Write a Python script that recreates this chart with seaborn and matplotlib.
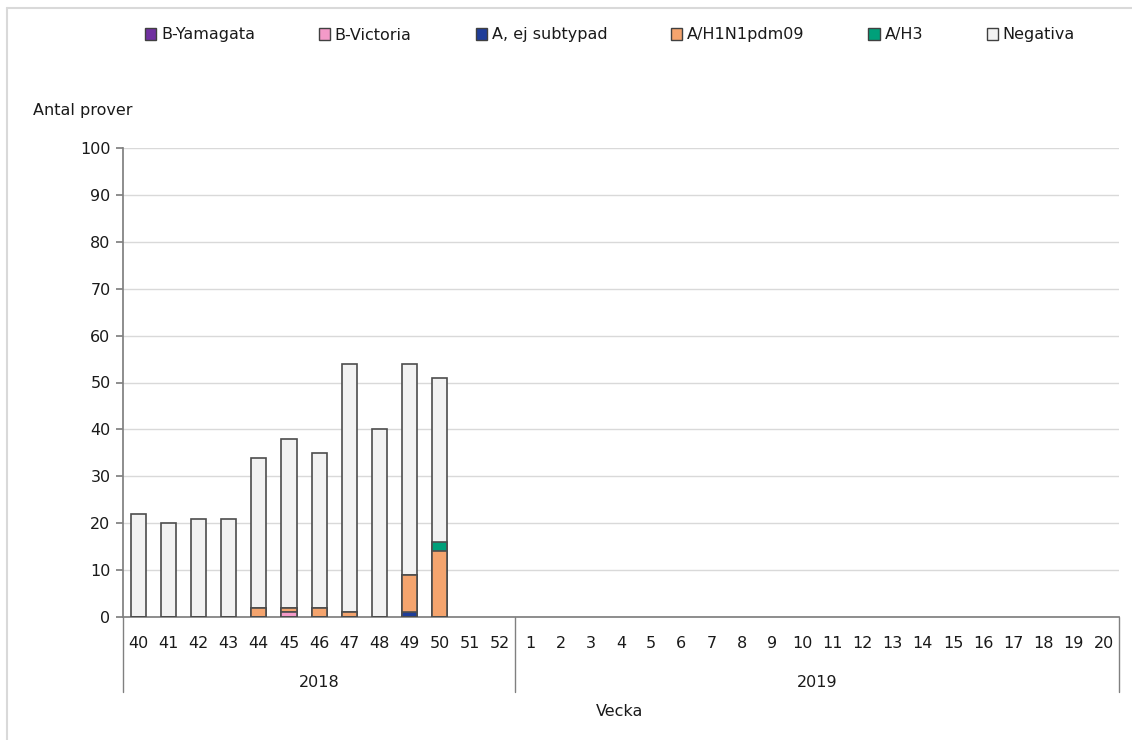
import numpy as np
import pandas as pd
import seaborn as sns
import matplotlib.pyplot as plt
from matplotlib.patches import Patch
from matplotlib.lines import Line2D

# data: all week slots on the axis, and the weeks that have samples
weeks = [str(w) for w in range(40, 53)] + [str(w) for w in range(1, 21)]
data_weeks = ["40", "41", "42", "43", "44", "45", "46", "47", "48", "49", "50"]
b_yamagata = [0, 0, 0, 0, 0, 0, 0, 0, 0, 0, 0]
b_victoria = [0, 0, 0, 0, 0, 1, 0, 0, 0, 0, 0]
a_ej = [0, 0, 0, 0, 0, 0, 0, 0, 0, 1, 0]
a_h1n1 = [0, 0, 0, 0, 2, 1, 2, 1, 0, 8, 14]
a_h3 = [0, 0, 0, 0, 0, 0, 0, 0, 0, 0, 2]
negativa = [22, 20, 21, 21, 32, 36, 33, 53, 40, 45, 35]

series = ["B-Yamagata", "B-Victoria", "A, ej subtypad", "A/H1N1pdm09", "A/H3", "Negativa"]
colors = ["#7030A0", "#F49AC8", "#1F3D99", "#F4A46E", "#00A07A", "#F2F2F2"]

df = pd.DataFrame({"Vecka": data_weeks, "B-Yamagata": b_yamagata, "B-Victoria": b_victoria,
                   "A, ej subtypad": a_ej, "A/H1N1pdm09": a_h1n1, "A/H3": a_h3,
                   "Negativa": negativa})
cum = df[series].cumsum(axis=1)

sns.set_theme(style="white")
plt.rcParams["font.family"] = ["DejaVu Sans"]
plt.rcParams["text.color"] = "#1A1A1A"
plt.rcParams["xtick.color"] = "#1A1A1A"
plt.rcParams["ytick.color"] = "#1A1A1A"
fig = plt.figure(figsize=(11.32, 7.40), dpi=100)
ax = fig.add_axes([123 / 1132, 1 - 617 / 740, (1119 - 123) / 1132, (617 - 148) / 740])

# stacked bars: draw cumulative totals from top layer down
for name, col in reversed(list(zip(series, colors))):
    sns.barplot(x=df["Vecka"], y=cum[name], color=col, order=weeks, width=0.5,
                edgecolor="#4D4D4D", linewidth=1.2, saturation=1, ax=ax, zorder=3)

ax.set_ylim(0, 100)
ax.set_xlim(-0.5, 32.5)
ax.set_yticks(range(0, 101, 10))
ax.yaxis.grid(True, color="#D9D9D9", linewidth=1)
ax.set_axisbelow(True)
ax.tick_params(axis="y", left=True, length=5, color="#808080", labelsize=11.5, pad=4)
ax.tick_params(axis="x", bottom=False, labelsize=11.5, pad=8)
for s in ["top", "right"]:
    ax.spines[s].set_visible(False)
ax.spines["left"].set_color("#808080")
ax.spines["bottom"].set_color("#808080")
ax.set_xlabel("")
ax.set_ylabel("")

# year group labels and separators
sep_kw = dict(color="#808080", linewidth=1, transform=ax.get_xaxis_transform(), clip_on=False)
for xs in [-0.5, 12.5, 32.5]:
    ax.add_line(Line2D([xs, xs], [0, -0.16], **sep_kw))
ax.text(6, -0.14, "2018", transform=ax.get_xaxis_transform(), ha="center", va="center", fontsize=11.5)
ax.text(22.5, -0.14, "2019", transform=ax.get_xaxis_transform(), ha="center", va="center", fontsize=11.5)

fig.text(620 / 1132, 1 - 712 / 740, "Vecka", ha="center", va="center", fontsize=11.5)
fig.text(33 / 1132, 1 - 110 / 740, "Antal prover", ha="left", va="center", fontsize=11.5)

# legend
handles = [Patch(facecolor=c, edgecolor="#404040", linewidth=1) for c in colors]
fig.legend(handles, series, loc="center", bbox_to_anchor=(610 / 1132, 1 - 35 / 740), ncol=6,
           frameon=False, fontsize=11.5, handlelength=0.7, handleheight=0.7,
           handletextpad=0.3, columnspacing=4.0)

# outer border lines
fig.add_artist(Line2D([7 / 1132, 1], [1 - 8 / 740, 1 - 8 / 740], color="#D9D9D9", linewidth=1.5))
fig.add_artist(Line2D([7 / 1132, 7 / 1132], [0, 1 - 8 / 740], color="#D9D9D9", linewidth=1.5))

fig.savefig("out.png", dpi=100)
